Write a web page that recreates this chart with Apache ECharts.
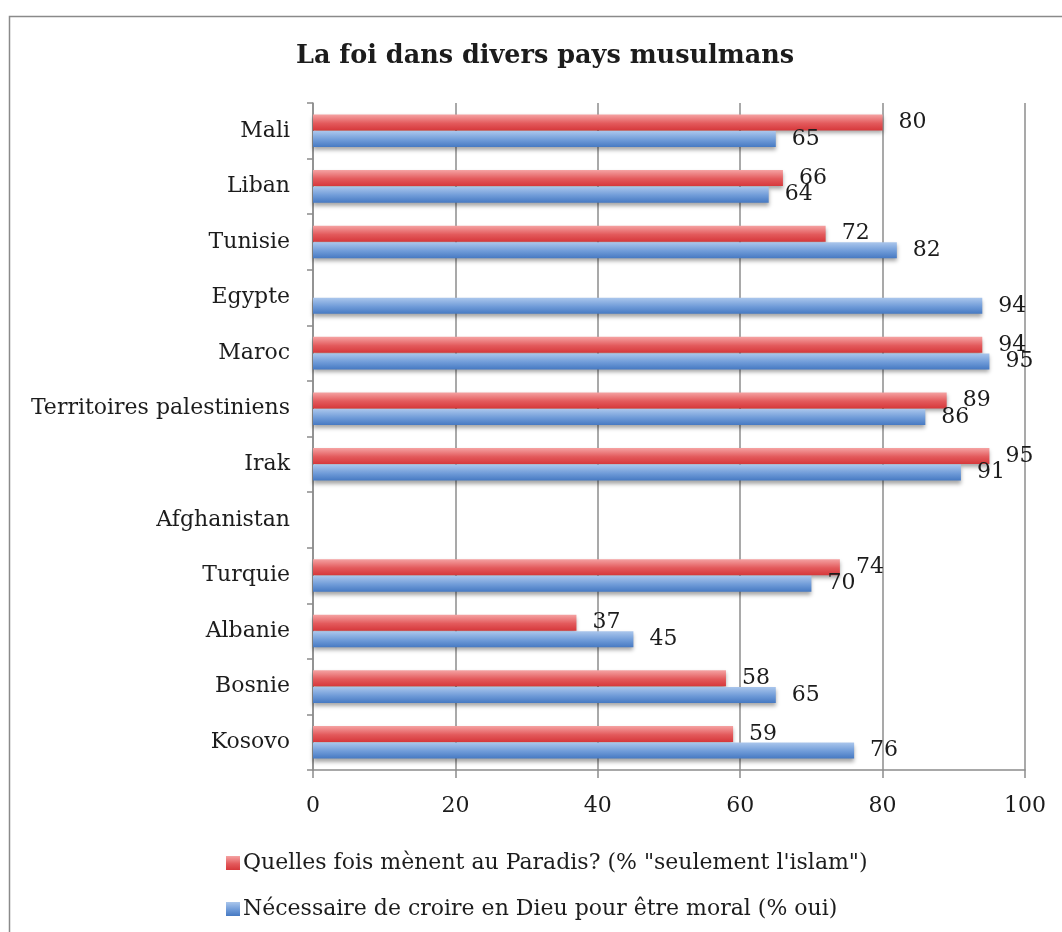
<!DOCTYPE html>
<html>
<head>
<meta charset="utf-8">
<style>
  html, body { margin: 0; padding: 0; background: #fff; }
  #chart { width: 1062px; height: 932px; }
</style>
<script src="https://cdn.jsdelivr.net/npm/echarts@6/dist/echarts.min.js"></script>
</head>
<body>
<div id="chart"></div>
<script>
// Countries, top to bottom
const countries = ['Mali', 'Liban', 'Tunisie', 'Egypte', 'Maroc', 'Territoires palestiniens',
  'Irak', 'Afghanistan', 'Turquie', 'Albanie', 'Bosnie', 'Kosovo'];
// % "seulement l'islam" mène au Paradis
const paradis = [80, 66, 72, null, 94, 89, 95, null, 74, 37, 58, 59];
// % oui : nécessaire de croire en Dieu pour être moral
const moral = [65, 64, 82, 94, 95, 86, 91, null, 70, 45, 65, 76];
const seriesNames = [
  'Quelles fois mènent au Paradis? (% "seulement l\'islam")',
  'Nécessaire de croire en Dieu pour être moral (% oui)'
];
const xTicks = [0, 20, 40, 60, 80, 100];

const FONT = 'DejaVu Serif';
const TEXT = '#1c1c1c';
const GRID = '#8c8c8c';

function grad(top, mid, bottom) {
  return new echarts.graphic.LinearGradient(0, 0, 0, 1, [
    { offset: 0, color: top },
    { offset: 0.55, color: mid },
    { offset: 1, color: bottom }
  ]);
}

const redFill = grad('#f5a3a3', '#e35a5c', '#d6383b');
const blueFill = grad('#aac6ec', '#6f9bd8', '#4679c2');

function barSeries(name, data, fill) {
  return {
    name: name,
    type: 'bar',
    data: data,
    barWidth: 16,
    barGap: '4%',
    barCategoryGap: '40%',
    itemStyle: {
      color: fill,
      shadowColor: 'rgba(0,0,0,0.35)',
      shadowBlur: 4,
      shadowOffsetY: 3
    },
    label: {
      show: true,
      position: 'right',
      distance: 16,
      fontFamily: FONT,
      fontSize: 22,
      color: TEXT,
      formatter: p => (p.value == null ? '' : p.value)
    }
  };
}

const chart = echarts.init(document.getElementById('chart'), null, { renderer: 'canvas' });
chart.setOption({
  animation: false,
  backgroundColor: '#fff',
  textStyle: { fontFamily: FONT },
  title: {
    text: 'La foi dans divers pays musulmans',
    left: 291,
    top: 38,
    textStyle: { fontFamily: FONT, fontWeight: 'bold', fontSize: 25.5, color: TEXT }
  },
  graphic: [{
    type: 'rect',
    left: 7, top: 14,
    shape: { width: 1200, height: 1100 },
    style: { fill: 'none', stroke: '#8a8a8a', lineWidth: 1.5 },
    silent: true,
    z: -10
  }],
  legend: {
    orient: 'vertical',
    left: 221,
    top: 847,
    itemGap: 24,
    itemWidth: 14,
    itemHeight: 14,
    icon: 'rect',
    textStyle: { fontFamily: FONT, fontSize: 22, color: TEXT, padding: [0, 0, 0, -2] },
    data: seriesNames
  },
  grid: { left: 313, right: 37, top: 103, bottom: 162, containLabel: false },
  xAxis: {
    type: 'value',
    min: 0, max: 100, interval: 20,
    axisLine: { show: true, lineStyle: { color: GRID, width: 1.5 } },
    axisTick: { show: true, length: 8, lineStyle: { color: GRID, width: 1.5 } },
    splitLine: { show: true, lineStyle: { color: GRID, width: 1.5 } },
    axisLabel: {
      margin: 25,
      fontFamily: FONT, fontSize: 22, color: TEXT,
      formatter: v => (xTicks.indexOf(v) >= 0 ? String(v) : '')
    }
  },
  yAxis: {
    type: 'category',
    data: countries,
    inverse: true,
    axisLine: { show: true, lineStyle: { color: GRID, width: 1.5 } },
    axisTick: { show: true, length: 6, lineStyle: { color: GRID, width: 1.5 } },
    axisLabel: { margin: 23, fontFamily: FONT, fontSize: 22, color: TEXT }
  },
  series: [
    barSeries(seriesNames[0], paradis, redFill),
    barSeries(seriesNames[1], moral, blueFill)
  ]
});
</script>
</body>
</html>
